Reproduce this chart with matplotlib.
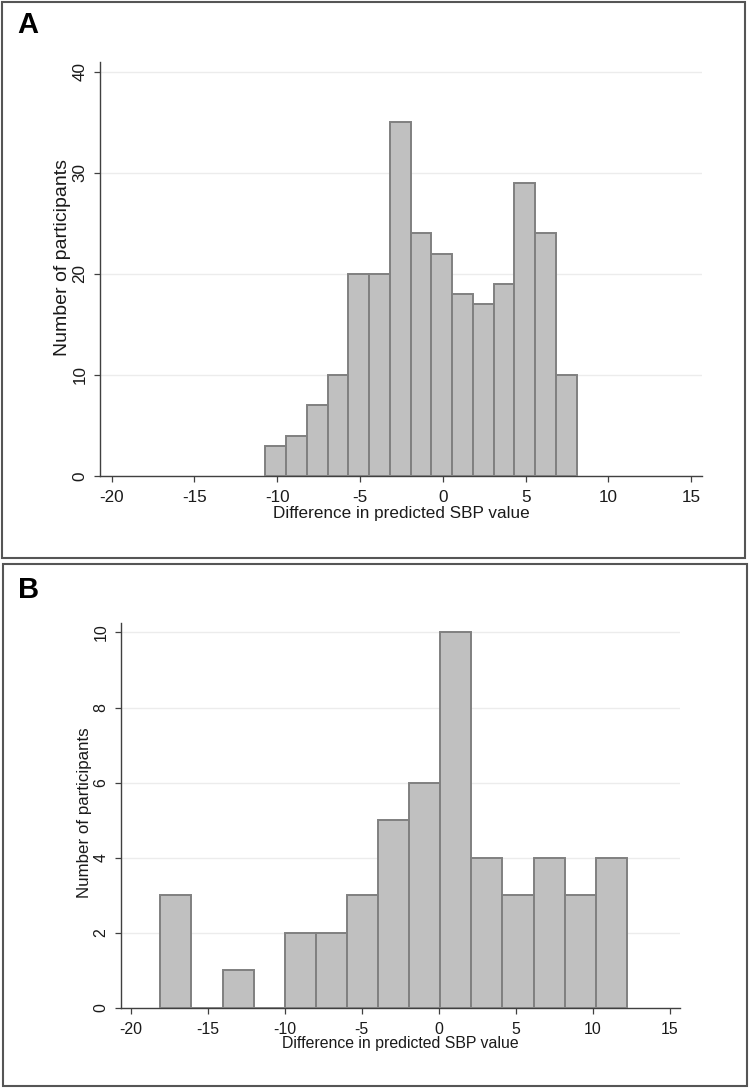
import numpy as np
import matplotlib.pyplot as plt
from matplotlib.patches import Rectangle

plt.rcParams['font.family'] = ['Liberation Sans', 'DejaVu Sans']
plt.rcParams['axes.unicode_minus'] = False

# panel A histogram (bins)
a_bin_start = -10.72
a_bin_width = 1.254
a_counts = [3, 4, 7, 10, 20, 20, 35, 24, 22, 18, 17, 19, 29, 24, 10]
a_yticks = [0, 10, 20, 30, 40]

# panel B histogram
b_bin_start = -18.07
b_bin_width = 2.018
b_counts = [3, 0, 1, 0, 2, 2, 3, 5, 6, 10, 4, 3, 4, 3, 4]
b_yticks = [0, 2, 4, 6, 8, 10]

xticks = [-20, -15, -10, -5, 0, 5, 10, 15]
xlabel = 'Difference in predicted SBP value'
ylabel = 'Number of participants'

W, H = 750, 1088
fig = plt.figure(figsize=(W / 100, H / 100), dpi=100)


def px_axes(l, t, r, b):
    return fig.add_axes([l / W, 1 - b / H, (r - l) / W, (b - t) / H])


def draw_hist(ax, start, width, counts, yticks, xlim, ylim, fs, yfs, ylab_xy, xlab_y):
    lefts = start + width * np.arange(len(counts))
    ax.bar(lefts, counts, width=width, align='edge', color='#c0c0c0',
           edgecolor='#808080', linewidth=1.4, zorder=3)
    ax.set_xlim(*xlim)
    ax.set_ylim(*ylim)
    ax.set_xticks(xticks)
    ax.set_yticks(yticks)
    ax.grid(axis='y', color='#ececec', linewidth=1.0, zorder=0)
    ax.grid(axis='x', visible=False)
    for s in ['top', 'right']:
        ax.spines[s].set_visible(False)
    for s in ['left', 'bottom']:
        ax.spines[s].set_color('#404040')
        ax.spines[s].set_linewidth(1.0)
    ax.tick_params(direction='out', length=4, width=0.9, color='#404040',
                   labelsize=fs, labelcolor='#1a1a1a')
    ax.tick_params(axis='x', pad=6)
    ax.tick_params(axis='y', pad=5)
    for lab in ax.get_yticklabels():
        lab.set_rotation(90)
        lab.set_va('center')
        lab.set_ha('right')
    ax.set_xlabel(xlabel, fontsize=fs, color='#1a1a1a')
    ax.set_ylabel(ylabel, fontsize=yfs, color='#1a1a1a')
    ax.xaxis.set_label_coords(0.5, xlab_y)
    ax.xaxis.label.set_va('center')
    ax.yaxis.set_label_coords(*ylab_xy)
    ax.yaxis.label.set_va('center')
    ax.yaxis.label.set_ha('center')


axA = px_axes(100, 61.7, 702, 476)
draw_hist(axA, a_bin_start, a_bin_width, a_counts, a_yticks,
          (-20.707, 15.66), (0, 40.99), 12.3, 14, (-0.063, 0.5286), -0.0917)

axB = px_axes(120.8, 622.7, 680.3, 1008)
draw_hist(axB, b_bin_start, b_bin_width, b_counts, b_yticks,
          (-20.64, 15.67), (0, 10.26), 11.4, 12.2, (-0.064, 0.506), -0.0934)

# panel frames
for (l, t, r, b) in [(2, 2, 745, 557.5), (2.5, 563.5, 746.5, 1085.5)]:
    fig.add_artist(Rectangle((l / W, 1 - b / H), (r - l) / W, (b - t) / H,
                             transform=fig.transFigure, fill=False,
                             edgecolor='#555555', linewidth=1.5))

fig.text(17 / W, 1 - 33.3 / H, 'A', fontsize=21, fontweight='bold',
         ha='left', va='baseline')
fig.text(18 / W, 1 - 598 / H, 'B', fontsize=21, fontweight='bold',
         ha='left', va='baseline')

fig.savefig('out.png', dpi=100)
